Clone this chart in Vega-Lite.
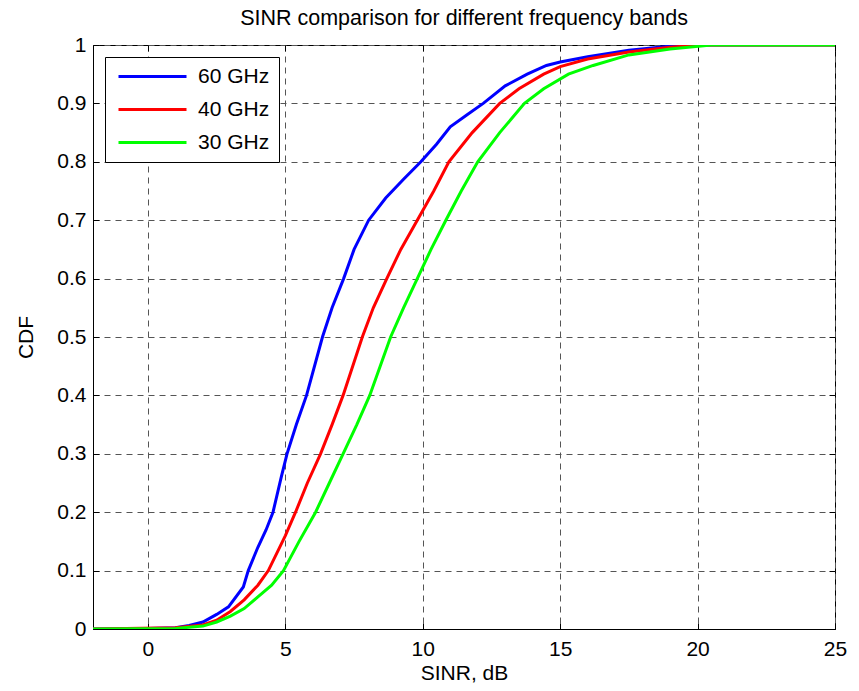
{
  "$schema": "https://vega.github.io/schema/vega-lite/v6.json",
  "autosize": {"type": "none"},
  "padding": {"left": 93, "top": 45, "right": 24, "bottom": 62},
  "width": 742,
  "height": 584,
  "background": "white",
  "config": {
    "font": "Liberation Sans",
    "view": {"stroke": "black", "strokeWidth": 1},
    "axis": {
      "labelFont": "Liberation Sans",
      "titleFont": "Liberation Sans",
      "labelFontSize": 21,
      "titleFontSize": 21,
      "titleFontWeight": "normal",
      "labelColor": "black",
      "titleColor": "black",
      "domainColor": "black",
      "tickColor": "black",
      "labelFlush": false,
      "gridColor": "#555555",
      "gridDash": [6, 5],
      "gridOpacity": 1,
      "gridWidth": 1
    }
  },
  "title": {
    "text": "SINR comparison for different frequency bands",
    "font": "Liberation Sans",
    "fontSize": 21.5,
    "fontWeight": "normal",
    "color": "black",
    "offset": 5
  },
  "data": {
    "values": [
      {"sinr": -2, "cdf": 0, "band": "60 GHz"},
      {"sinr": 0, "cdf": 0.001, "band": "60 GHz"},
      {"sinr": 1, "cdf": 0.002, "band": "60 GHz"},
      {"sinr": 1.5, "cdf": 0.006, "band": "60 GHz"},
      {"sinr": 2, "cdf": 0.012, "band": "60 GHz"},
      {"sinr": 2.5, "cdf": 0.025, "band": "60 GHz"},
      {"sinr": 2.93, "cdf": 0.038, "band": "60 GHz"},
      {"sinr": 3.47, "cdf": 0.072, "band": "60 GHz"},
      {"sinr": 3.65, "cdf": 0.1, "band": "60 GHz"},
      {"sinr": 4.0, "cdf": 0.14, "band": "60 GHz"},
      {"sinr": 4.3, "cdf": 0.17, "band": "60 GHz"},
      {"sinr": 4.55, "cdf": 0.2, "band": "60 GHz"},
      {"sinr": 4.85, "cdf": 0.26, "band": "60 GHz"},
      {"sinr": 5.06, "cdf": 0.3, "band": "60 GHz"},
      {"sinr": 5.4, "cdf": 0.35, "band": "60 GHz"},
      {"sinr": 5.77, "cdf": 0.4, "band": "60 GHz"},
      {"sinr": 6.35, "cdf": 0.5, "band": "60 GHz"},
      {"sinr": 6.7, "cdf": 0.55, "band": "60 GHz"},
      {"sinr": 7.12, "cdf": 0.6, "band": "60 GHz"},
      {"sinr": 7.5, "cdf": 0.65, "band": "60 GHz"},
      {"sinr": 8.03, "cdf": 0.7, "band": "60 GHz"},
      {"sinr": 8.65, "cdf": 0.738, "band": "60 GHz"},
      {"sinr": 9.3, "cdf": 0.77, "band": "60 GHz"},
      {"sinr": 9.93, "cdf": 0.8, "band": "60 GHz"},
      {"sinr": 10.5, "cdf": 0.83, "band": "60 GHz"},
      {"sinr": 11.0, "cdf": 0.86, "band": "60 GHz"},
      {"sinr": 11.6, "cdf": 0.88, "band": "60 GHz"},
      {"sinr": 12.2, "cdf": 0.9, "band": "60 GHz"},
      {"sinr": 13.0, "cdf": 0.93, "band": "60 GHz"},
      {"sinr": 13.8, "cdf": 0.95, "band": "60 GHz"},
      {"sinr": 14.5, "cdf": 0.965, "band": "60 GHz"},
      {"sinr": 15.0, "cdf": 0.971, "band": "60 GHz"},
      {"sinr": 16.0, "cdf": 0.98, "band": "60 GHz"},
      {"sinr": 17.5, "cdf": 0.991, "band": "60 GHz"},
      {"sinr": 19.0, "cdf": 0.998, "band": "60 GHz"},
      {"sinr": 20.0, "cdf": 1, "band": "60 GHz"},
      {"sinr": 25.0, "cdf": 1, "band": "60 GHz"},
      {"sinr": -2, "cdf": 0, "band": "40 GHz"},
      {"sinr": 1, "cdf": 0.002, "band": "40 GHz"},
      {"sinr": 2, "cdf": 0.007, "band": "40 GHz"},
      {"sinr": 2.5, "cdf": 0.015, "band": "40 GHz"},
      {"sinr": 3, "cdf": 0.03, "band": "40 GHz"},
      {"sinr": 3.5, "cdf": 0.05, "band": "40 GHz"},
      {"sinr": 4, "cdf": 0.075, "band": "40 GHz"},
      {"sinr": 4.38, "cdf": 0.1, "band": "40 GHz"},
      {"sinr": 5, "cdf": 0.16, "band": "40 GHz"},
      {"sinr": 5.37, "cdf": 0.2, "band": "40 GHz"},
      {"sinr": 5.8, "cdf": 0.25, "band": "40 GHz"},
      {"sinr": 6.28, "cdf": 0.3, "band": "40 GHz"},
      {"sinr": 6.7, "cdf": 0.35, "band": "40 GHz"},
      {"sinr": 7.1, "cdf": 0.4, "band": "40 GHz"},
      {"sinr": 7.8, "cdf": 0.5, "band": "40 GHz"},
      {"sinr": 8.2, "cdf": 0.55, "band": "40 GHz"},
      {"sinr": 8.69, "cdf": 0.6, "band": "40 GHz"},
      {"sinr": 9.2, "cdf": 0.65, "band": "40 GHz"},
      {"sinr": 9.8, "cdf": 0.7, "band": "40 GHz"},
      {"sinr": 10.4, "cdf": 0.75, "band": "40 GHz"},
      {"sinr": 10.95, "cdf": 0.8, "band": "40 GHz"},
      {"sinr": 11.8, "cdf": 0.85, "band": "40 GHz"},
      {"sinr": 12.8, "cdf": 0.9, "band": "40 GHz"},
      {"sinr": 13.5, "cdf": 0.925, "band": "40 GHz"},
      {"sinr": 14.4, "cdf": 0.95, "band": "40 GHz"},
      {"sinr": 15, "cdf": 0.963, "band": "40 GHz"},
      {"sinr": 16, "cdf": 0.976, "band": "40 GHz"},
      {"sinr": 17.5, "cdf": 0.988, "band": "40 GHz"},
      {"sinr": 19, "cdf": 0.996, "band": "40 GHz"},
      {"sinr": 20, "cdf": 1, "band": "40 GHz"},
      {"sinr": 25, "cdf": 1, "band": "40 GHz"},
      {"sinr": -2, "cdf": 0, "band": "30 GHz"},
      {"sinr": 1, "cdf": 0.001, "band": "30 GHz"},
      {"sinr": 2, "cdf": 0.005, "band": "30 GHz"},
      {"sinr": 2.5, "cdf": 0.012, "band": "30 GHz"},
      {"sinr": 3, "cdf": 0.022, "band": "30 GHz"},
      {"sinr": 3.5, "cdf": 0.035, "band": "30 GHz"},
      {"sinr": 4, "cdf": 0.055, "band": "30 GHz"},
      {"sinr": 4.5, "cdf": 0.075, "band": "30 GHz"},
      {"sinr": 4.93, "cdf": 0.1, "band": "30 GHz"},
      {"sinr": 5.5, "cdf": 0.15, "band": "30 GHz"},
      {"sinr": 6.1, "cdf": 0.2, "band": "30 GHz"},
      {"sinr": 6.6, "cdf": 0.25, "band": "30 GHz"},
      {"sinr": 7.1, "cdf": 0.3, "band": "30 GHz"},
      {"sinr": 7.6, "cdf": 0.35, "band": "30 GHz"},
      {"sinr": 8.07, "cdf": 0.4, "band": "30 GHz"},
      {"sinr": 8.45, "cdf": 0.45, "band": "30 GHz"},
      {"sinr": 8.83, "cdf": 0.5, "band": "30 GHz"},
      {"sinr": 9.3, "cdf": 0.55, "band": "30 GHz"},
      {"sinr": 9.8, "cdf": 0.6, "band": "30 GHz"},
      {"sinr": 10.3, "cdf": 0.65, "band": "30 GHz"},
      {"sinr": 10.84, "cdf": 0.7, "band": "30 GHz"},
      {"sinr": 11.4, "cdf": 0.75, "band": "30 GHz"},
      {"sinr": 12.0, "cdf": 0.8, "band": "30 GHz"},
      {"sinr": 12.8, "cdf": 0.85, "band": "30 GHz"},
      {"sinr": 13.7, "cdf": 0.9, "band": "30 GHz"},
      {"sinr": 14.4, "cdf": 0.925, "band": "30 GHz"},
      {"sinr": 15.3, "cdf": 0.95, "band": "30 GHz"},
      {"sinr": 16.2, "cdf": 0.965, "band": "30 GHz"},
      {"sinr": 17.5, "cdf": 0.983, "band": "30 GHz"},
      {"sinr": 19, "cdf": 0.993, "band": "30 GHz"},
      {"sinr": 20.5, "cdf": 1, "band": "30 GHz"},
      {"sinr": 25, "cdf": 1, "band": "30 GHz"}
    ]
  },
  "resolve": {"axis": {"x": "independent", "y": "independent"}},
  "layer": [
    {
      "mark": {"type": "line", "strokeWidth": 3, "clip": true},
      "encoding": {
        "x": {
          "field": "sinr",
          "type": "quantitative",
          "scale": {"domain": [-2, 25], "nice": false, "zero": false},
          "axis": {
            "title": "SINR, dB",
            "values": [0, 5, 10, 15, 20, 25],
            "tickSize": -6,
            "labelPadding": 15,
            "titlePadding": 3,
            "grid": true
          }
        },
        "y": {
          "field": "cdf",
          "type": "quantitative",
          "scale": {"domain": [0, 1], "nice": false},
          "axis": {
            "title": "CDF",
            "values": [0, 0.1, 0.2, 0.3, 0.4, 0.5, 0.6, 0.7, 0.8, 0.9, 1],
            "format": "~g",
            "tickSize": -6,
            "labelPadding": 13,
            "titlePadding": 20,
            "grid": true
          }
        },
        "color": {
          "field": "band",
          "type": "nominal",
          "scale": {"domain": ["60 GHz", "40 GHz", "30 GHz"], "range": ["#0000ff", "#ff0000", "#00ff00"]},
          "legend": {
            "title": null,
            "orient": "none",
            "legendX": 12,
            "legendY": 12,
            "symbolType": "M-6.8,0H6.8",
            "symbolSize": 100,
            "symbolStrokeWidth": 3,
            "symbolOffset": 28,
            "labelFontSize": 21,
            "labelFont": "Liberation Sans",
            "labelColor": "black",
            "labelOffset": 35,
            "strokeColor": "black",
            "fillColor": "white",
            "padding": 9,
            "rowPadding": 11
          }
        }
      }
    },
    {
      "mark": {"type": "line", "strokeOpacity": 0},
      "encoding": {
        "x": {
          "field": "sinr",
          "type": "quantitative",
          "axis": {
            "orient": "top",
            "title": null,
            "labels": false,
            "domain": false,
            "grid": false,
            "values": [0, 5, 10, 15, 20, 25],
            "tickSize": -6
          }
        },
        "y": {
          "field": "cdf",
          "type": "quantitative",
          "axis": {
            "orient": "right",
            "title": null,
            "labels": false,
            "domain": false,
            "grid": false,
            "values": [0, 0.1, 0.2, 0.3, 0.4, 0.5, 0.6, 0.7, 0.8, 0.9, 1],
            "tickSize": -6
          }
        },
        "detail": {"field": "band", "type": "nominal"}
      }
    }
  ]
}
